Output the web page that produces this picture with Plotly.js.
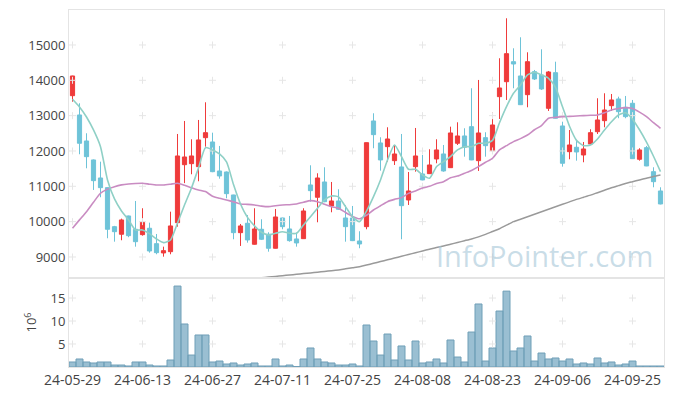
<!DOCTYPE html>
<html>
<head>
<meta charset="utf-8">
<script src="https://cdn.plot.ly/plotly-3.0.1.min.js"></script>
<style>html,body{margin:0;padding:0;background:#fff;}#chart{width:673px;height:396px;}</style>
</head>
<body>
<div id="chart"></div>
<script>
const dates = ["24-05-29","24-05-30","24-05-31","24-06-03","24-06-04","24-06-05","24-06-07","24-06-10","24-06-11","24-06-12","24-06-13","24-06-14","24-06-17","24-06-18","24-06-19","24-06-20","24-06-21","24-06-24","24-06-25","24-06-26","24-06-27","24-06-28","24-07-01","24-07-02","24-07-03","24-07-04","24-07-05","24-07-08","24-07-09","24-07-10","24-07-11","24-07-12","24-07-15","24-07-16","24-07-17","24-07-18","24-07-19","24-07-22","24-07-23","24-07-24","24-07-25","24-07-26","24-07-29","24-07-30","24-07-31","24-08-01","24-08-02","24-08-05","24-08-06","24-08-07","24-08-08","24-08-09","24-08-12","24-08-13","24-08-14","24-08-16","24-08-19","24-08-20","24-08-21","24-08-22","24-08-23","24-08-26","24-08-27","24-08-28","24-08-29","24-08-30","24-09-02","24-09-03","24-09-04","24-09-05","24-09-06","24-09-09","24-09-10","24-09-11","24-09-12","24-09-13","24-09-19","24-09-20","24-09-23","24-09-24","24-09-25","24-09-26","24-09-27","24-09-30","24-10-02"];

const openP = [13565,13019,12283,11746,11236,10962,9858,9643,10161,9784,9632,9813,9377,9114,9150,9971,11612,11641,11556,12377,12255,11434,11406,10755,9688,9954,9360,9784,9643,9247,10104,9793,9510,9518,11038,10690,11123,10444,10585,10104,10104,9453,9858,12849,12227,12122,11726,11548,10613,11556,11349,11358,11774,11915,11528,12218,12425,12688,11726,12377,12009,13537,13961,14527,14123,13594,14245,14151,13208,14216,12708,11980,12105,11887,12198,12546,12858,13282,13472,13237,13350,11765,12094,11414,10868];
const highP = [14130,13350,12501,11760,11697,10970,9880,10085,10170,10585,10379,9971,9651,9292,10282,12481,12849,12331,12878,13378,12518,12142,11420,10760,9934,10189,10379,10067,9700,10359,10110,10161,9688,10379,11595,11369,11539,11123,10916,10464,10444,9728,12240,13067,12388,12671,12170,12481,11406,12651,11887,12048,12331,12170,12688,12812,12643,13775,14010,12530,13096,14624,15756,14907,15218,14793,14293,14878,14264,14527,12829,12595,12312,12255,12614,13492,13633,13613,13537,13557,13444,12077,12142,11539,10973];
const lowP = [13395,11907,11510,10897,10690,9530,9433,9473,9560,9292,9603,9122,9077,9009,9077,9858,11090,11341,11143,12122,11400,11216,10662,9501,9312,9405,9350,9480,9150,9240,9784,9433,9292,9510,10565,9982,10550,10265,10330,9433,9450,9247,9784,12077,11443,11697,11604,9501,10472,11414,11170,11349,11652,11414,11520,12170,11839,11740,11434,11839,12000,12906,13444,13775,13300,13237,14010,13727,13132,12920,11556,11765,11726,11681,12190,12481,12671,13132,12926,12926,11780,11726,11570,10973,10490];
const closeP = [14123,12218,11839,11160,10962,9784,9716,10048,9603,9433,9982,9170,9122,9179,9878,11859,11830,11859,12312,12518,11414,11293,10792,9688,9878,9482,9793,9501,9247,10132,9858,9462,9397,10302,10877,11236,10565,10585,10350,9858,9462,9368,12235,12462,11746,12340,11915,10452,10868,11859,11180,11604,12029,11434,12510,12425,12105,11746,12510,12150,12736,13783,14754,14462,13310,14527,14038,13755,14236,12926,11652,12170,11972,12057,12518,12878,13160,13444,13112,12971,11782,12029,11576,11131,10500];

const ma5 = [13463,13245,12962,12595,12122,11180,10642,10302,10048,9765,9765,9660,9510,9405,9482,9963,10472,10953,11519,12094,12029,11915,11690,11050,10500,10120,9880,9700,9623,9671,9716,9671,9671,9906,10141,10379,10614,10727,10700,10424,10141,10000,10300,10707,11180,11746,12170,11839,11482,11482,11321,11227,11556,11697,11839,12029,12122,12122,12218,12218,12300,12800,13254,13633,13868,14151,14227,14151,14057,13800,13250,12700,12300,12150,12170,12340,12595,12829,13019,13080,12900,12600,12250,11850,11414];
const ma20 = [9812,10050,10283,10550,10803,10920,10990,11040,11066,11080,11086,11060,11038,11038,11060,11086,11030,10960,10897,10850,10720,10662,10614,10560,10500,10490,10472,10440,10424,10450,10472,10480,10500,10550,10594,10566,10490,10424,10380,10260,10150,10080,10180,10330,10450,10566,10630,10680,10800,10870,10950,11000,11080,11131,11240,11290,11369,11450,11556,11680,11792,12029,12150,12265,12350,12453,12600,12720,12926,12950,12971,12980,12990,13000,13010,13019,13080,13160,13200,13226,13200,13100,12971,12800,12643];
const ma60 = [null,null,null,null,null,null,null,null,null,null,null,null,null,null,null,null,null,null,null,null,null,null,null,null,null,8370,8390,8410,8430,8450,8470,8490,8510,8530,8550,8570,8590,8610,8633,8665,8695,8726,8770,8820,8870,8920,8970,9020,9070,9120,9170,9220,9270,9310,9360,9410,9460,9510,9570,9640,9720,9800,9900,10000,10070,10140,10210,10280,10350,10420,10490,10560,10630,10690,10750,10820,10890,10960,11020,11080,11130,11180,11230,11280,11321];

const volume = [1.09,1.74,1.09,0.87,1.09,1.09,0.43,0.43,0.22,1.09,1.09,0.43,0.22,0.22,1.52,17.6,9.35,2.6,6.96,6.96,1.09,1.3,0.65,0.87,0.43,0.65,0.87,0.22,0.22,1.74,0.22,0.43,0.1,1.74,4.13,1.74,1.09,0.87,0.43,0.43,0.65,0.22,9.13,5.65,2.6,7.17,1.52,4.57,1.52,5.65,0.87,1.09,1.74,0.87,5.87,2.17,1.09,7.6,13.7,1.3,4.13,12.17,16.5,3.48,4.13,6.74,1.3,3.04,1.74,1.96,1.3,1.74,0.65,0.87,0.65,1.96,0.87,1.09,0.43,0.65,1.3,0.22,0.22,0.22,0.22];

const xTickLabels = ["24-05-29","24-06-13","24-06-27","24-07-11","24-07-25","24-08-08","24-08-23","24-09-06","24-09-25"];
const priceTicks = [9000,10000,11000,12000,13000,14000,15000];
const volumeTicks = [5,10,15];

// grid "+" marks at tick intersections
const gx1 = [], gy1 = [], gx2 = [], gy2 = [];
xTickLabels.forEach(d => {
  priceTicks.forEach(v => { gx1.push(d); gy1.push(v); });
  volumeTicks.forEach(v => { gx2.push(d); gy2.push(v); });
});

const RED = '#ef3b3b', BLUE = '#6ec3d8';

const traces = [
  {type:'scatter', mode:'markers', x:gx1, y:gy1, xaxis:'x', yaxis:'y', hoverinfo:'skip', showlegend:false,
   marker:{symbol:'cross-thin', size:5, line:{color:'#e6e6e6', width:1}}},
  {type:'scatter', mode:'markers', x:gx2, y:gy2, xaxis:'x', yaxis:'y2', hoverinfo:'skip', showlegend:false,
   marker:{symbol:'cross-thin', size:5, line:{color:'#e6e6e6', width:1}}},
  {type:'candlestick', x:dates, open:openP, high:highP, low:lowP, close:closeP, xaxis:'x', yaxis:'y',
   hoverinfo:'skip', showlegend:false, whiskerwidth:0,
   increasing:{line:{color:RED, width:1}, fillcolor:RED},
   decreasing:{line:{color:BLUE, width:1}, fillcolor:BLUE}},
  {type:'scatter', mode:'lines', x:dates, y:ma60, xaxis:'x', yaxis:'y', hoverinfo:'skip', showlegend:false,
   line:{color:'#9a9a9a', width:1.5, shape:'spline', smoothing:0.6}, connectgaps:false},
  {type:'scatter', mode:'lines', x:dates, y:ma20, xaxis:'x', yaxis:'y', hoverinfo:'skip', showlegend:false,
   line:{color:'#c98cc2', width:1.6, shape:'spline', smoothing:0.6}},
  {type:'scatter', mode:'lines', x:dates, y:ma5, xaxis:'x', yaxis:'y', hoverinfo:'skip', showlegend:false,
   line:{color:'#8fd0c6', width:1.6, shape:'spline', smoothing:0.6}},
  {type:'bar', x:dates, y:volume, xaxis:'x', yaxis:'y2', hoverinfo:'skip', showlegend:false,
   marker:{color:'rgba(120,170,195,0.75)', line:{color:'#6f9fb7', width:1}}}
];

const axisLine = '#e4e4e4';
const layout = {
  width:673, height:396,
  margin:{l:69, r:9, t:10, b:29},
  paper_bgcolor:'#ffffff', plot_bgcolor:'#ffffff',
  font:{family:'"Open Sans", sans-serif', color:'#444', size:13},
  showlegend:false, bargap:0, boxgap:0.15,
  xaxis:{type:'category', categoryorder:'array', categoryarray:dates, anchor:'y2', range:[-0.5, dates.length-0.5],
    tickvals:xTickLabels, ticktext:xTickLabels, tickfont:{size:14, color:'#444'},
    showgrid:false, zeroline:false, showline:true, linecolor:axisLine, mirror:'all',
    ticks:'', rangeslider:{visible:false}, fixedrange:true},
  yaxis:{domain:[0.2493, 1], range:[8405, 15990], tickvals:priceTicks, tickformat:'d',
    showgrid:false, zeroline:false, showline:true, linecolor:axisLine, mirror:true, ticks:'',
    tickfont:{size:13, color:'#444'}, fixedrange:true},
  yaxis2:{domain:[0, 0.2493], range:[0, 19.35], tickvals:volumeTicks,
    showgrid:false, zeroline:false, showline:true, linecolor:axisLine, mirror:true, ticks:'',
    tickfont:{size:13, color:'#444'}, fixedrange:true,
    title:{text:'10<sup>6</sup>', font:{size:13, color:'#444'}, standoff:10}},
  annotations:[{text:'InfoPointer.com', xref:'paper', yref:'paper', x:0.985, y:0.311,
    xanchor:'right', yanchor:'middle', showarrow:false,
    font:{family:'"Open Sans", sans-serif', size:29, color:'rgba(165,198,216,0.6)'}}]
};

Plotly.newPlot('chart', traces, layout, {displayModeBar:false, staticPlot:true});
</script>
</body>
</html>
